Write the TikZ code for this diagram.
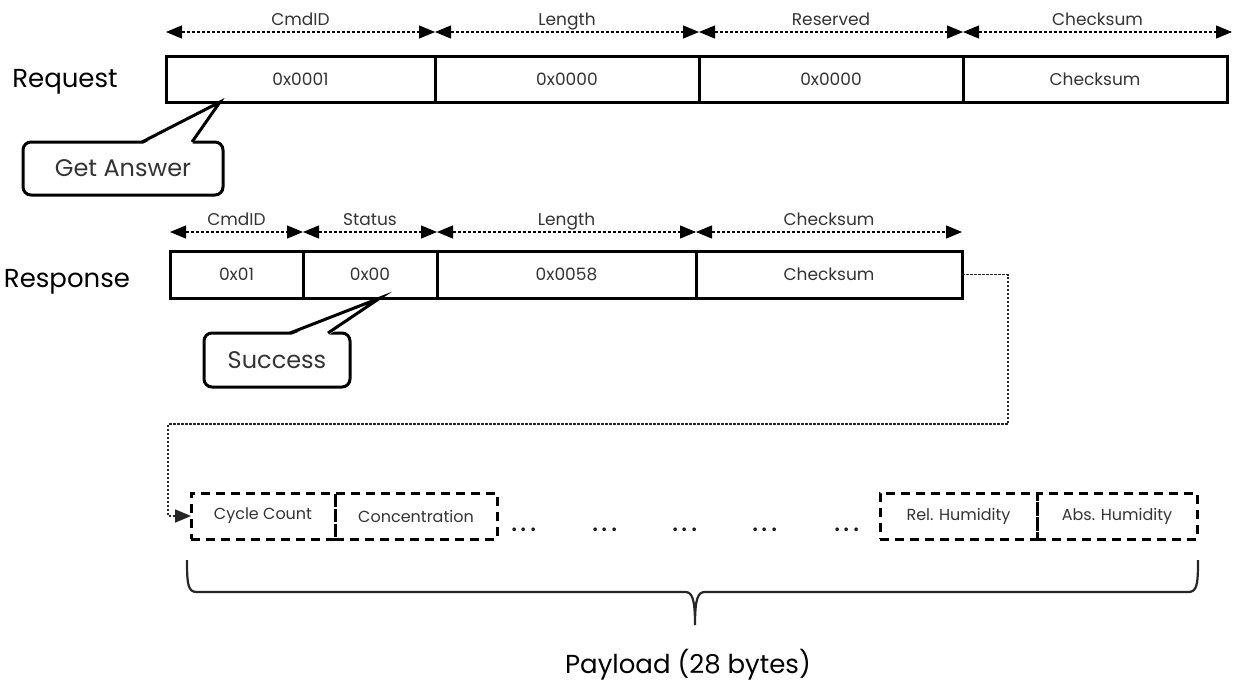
\documentclass[tikz,border=0pt]{standalone}
\usepackage{fontspec}
\setmainfont{Poppins}
\usepackage{tikz}
\usetikzlibrary{arrows.meta, positioning, calc}

\begin{document}
\begin{tikzpicture}[
  x=1pt, y=-1pt,
  field/.style={rectangle, draw, line width=3pt, outer sep=0pt, inner sep=0pt, minimum height=46pt, text=black!80, font=\fontsize{17}{20}\selectfont},
  part/.style={rectangle, draw, line width=3pt, dash pattern=on 9pt off 6pt, outer sep=0pt, inner sep=0pt, minimum height=46pt, text=black!80, font=\fontsize{16}{19}\selectfont},
  callout/.style={rectangle, draw, line width=3pt, rounded corners=8pt, outer sep=0pt, inner sep=0pt, minimum height=53pt, text=black!80, font=\fontsize{24}{28}\selectfont},
  pointer/.style={line width=3pt, line join=miter},
  rowname/.style={anchor=base, font=\fontsize{26}{30}\selectfont},
  dim/.style={{Triangle[length=16pt,width=13pt]}-{Triangle[length=16pt,width=13pt]}, line width=1.1pt, dash pattern=on 3pt off 2pt},
  dimlabel/.style={above, inner sep=3pt, text height=12pt, text depth=3pt, text=black!80, font=\fontsize{17}{20}\selectfont},
  link/.style={-{Triangle[length=16pt,width=13pt]}, line width=1.8pt, dash pattern=on 2.5pt off 1.5pt, draw=black!85},
  gap/.style={text=black!90, font=\fontsize{30}{34}\selectfont}
]
  \useasboundingbox (0,0) rectangle (1236,683);

  % request frame
  \node[rowname] (req) at (65,87) {Request};
  \node[field, minimum width=269pt, anchor=north west] (reqcmd) at (166,56) {0x0001};
  \node[field, minimum width=264pt, right=0pt of reqcmd] (reqlen) {0x0000};
  \node[field, minimum width=264pt, right=0pt of reqlen] (reqres) {0x0000};
  \node[field, minimum width=264pt, right=0pt of reqres] (reqsum) {Checksum};
  \draw[dim] ([yshift=24pt]reqcmd.north west) -- ([yshift=24pt]reqcmd.north east) node[dimlabel, midway] {CmdID};
  \draw[dim] ([yshift=24pt]reqlen.north west) -- ([yshift=24pt]reqlen.north east) node[dimlabel, midway] {Length};
  \draw[dim] ([yshift=24pt]reqres.north west) -- ([yshift=24pt]reqres.north east) node[dimlabel, midway] {Reserved};
  \draw[dim] ([yshift=24pt]reqsum.north west) -- ([yshift=24pt,xshift=5pt]reqsum.north east) node[dimlabel, midway] {Checksum};

  \node[callout, minimum width=200pt] (getans) at (123,168.5) {Get Answer};
  \fill[white] ([xshift=119pt,yshift=-2.5pt]getans.north west) -- ([xshift=54pt]reqcmd.south west) -- ([xshift=169pt,yshift=-2.5pt]getans.north west) -- cycle;
  \draw[pointer] ([xshift=119pt]getans.north west) -- ([xshift=54pt]reqcmd.south west) -- ([xshift=169pt]getans.north west);

  % response frame
  \node[rowname] (rsp) at (67,287) {Response};
  \node[field, minimum width=133pt, minimum height=47pt, anchor=north west] (rspcmd) at (170,251) {0x01};
  \node[field, minimum width=134pt, minimum height=47pt, right=0pt of rspcmd] (rspstat) {0x00};
  \node[field, minimum width=259pt, minimum height=47pt, right=0pt of rspstat] (rsplen) {0x0058};
  \node[field, minimum width=266pt, minimum height=47pt, right=0pt of rsplen] (rspsum) {Checksum};
  \draw[dim] ([yshift=19pt]rspcmd.north west) -- ([yshift=19pt]rspcmd.north east) node[dimlabel, midway] {CmdID};
  \draw[dim] ([yshift=19pt]rspstat.north west) -- ([yshift=19pt]rspstat.north east) node[dimlabel, midway] {Status};
  \draw[dim] ([yshift=19pt]rsplen.north west) -- ([yshift=19pt]rsplen.north east) node[dimlabel, midway] {Length};
  \draw[dim] ([yshift=19pt]rspsum.north west) -- ([yshift=19pt]rspsum.north east) node[dimlabel, midway] {Checksum};

  \node[callout, minimum width=146pt, minimum height=54pt] (succ) at (277,360) {Success};
  \fill[white] ([xshift=86pt,yshift=-2.5pt]succ.north west) -- ([xshift=77pt]rspstat.south west) -- ([xshift=124pt,yshift=-2.5pt]succ.north west) -- cycle;
  \draw[pointer] ([xshift=86pt]succ.north west) -- ([xshift=77pt]rspstat.south west) -- ([xshift=124pt]succ.north west);

  % payload
  \node[part, minimum width=144pt, anchor=north west] (cyc) at (191,493) {Cycle Count};
  \node[part, minimum width=162pt, right=0pt of cyc] (conc) {Concentration};
  \node[part, minimum width=157pt, anchor=north west] (relhum) at (880,493) {Rel. Humidity};
  \node[part, minimum width=160pt, right=0pt of relhum] (abshum) {Abs. Humidity};
  \node[gap] (gap1) at (524,530) {.\hspace{3pt}.\hspace{3pt}.};
  \node[gap] (gap2) at (605,530) {.\hspace{3pt}.\hspace{3pt}.};
  \node[gap] (gap3) at (685,530) {.\hspace{3pt}.\hspace{3pt}.};
  \node[gap] (gap4) at (765,530) {.\hspace{3pt}.\hspace{3pt}.};
  \node[gap] (gap5) at (847,530) {.\hspace{3pt}.\hspace{3pt}.};

  \coordinate (bend) at (168,424);
  \draw[link] (rspsum.east) -- ++(46,0) |- (bend) |- (cyc.west);

  \draw[line width=2.2pt, black!85] (187,560) .. controls (187,585) and (188,592) .. (197,592) -- (685,592) .. controls (692,592) and (695,598) .. (695,625) .. controls (695,598) and (698,592) .. (705,592) -- (1188,592) .. controls (1197,592) and (1198,585) .. (1198,560);
  \node[anchor=base, font=\fontsize{26}{30}\selectfont] (payload) at (688,673) {Payload (28 bytes)};
\end{tikzpicture}
\end{document}
